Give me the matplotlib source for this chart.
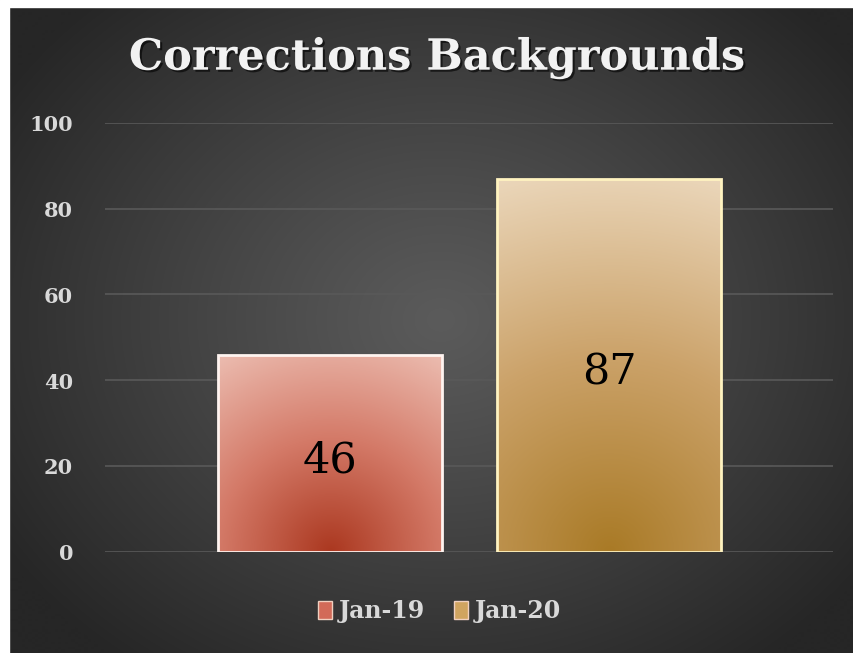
import numpy as np
import matplotlib
matplotlib.use("Agg")
import matplotlib.pyplot as plt
from matplotlib.colors import LinearSegmentedColormap
from matplotlib.patches import Patch
import matplotlib.patheffects as pe

# data
series = ["Jan-19", "Jan-20"]
values = [46, 87]
yticks = [0, 20, 40, 60, 80, 100]

# colours: dark (bottom), mid, light (top corners)
bar_cols = [["#ab3820", "#d47a68", "#ecbdb1"],
            ["#a97a26", "#cba269", "#ebd7bb"]]
edge_cols = ["#fff4f0", "#fff3c0"]
legend_cols = ["#d26a58", "#d0a460"]

W, H = 853, 653
fig = plt.figure(figsize=(8.532, 6.532), dpi=100)
fig.patch.set_facecolor("#262626")

# dark radial background (chart area starts a few px in from left / top)
bg = fig.add_axes([0, 0, 1, 1], zorder=-5)
bg.axis("off")
yy, xx = np.mgrid[7:H + 20, 9:W + 20]
d = np.sqrt(((xx - 440) / 520.0) ** 2 + ((yy - 320) / 430.0) ** 2)
d = np.clip(d, 0, 1) ** 1.1
c0 = np.array([0x5b, 0x5b, 0x5b]) / 255
c1 = np.array([0x26, 0x26, 0x26]) / 255
img = c0[None, None, :] * (1 - d[..., None]) + c1[None, None, :] * d[..., None]
bg.imshow(img, extent=(9, W + 20, H + 20, 7), interpolation="bilinear", aspect="auto")
# white margin on the left and top
bg.axvspan(0, 9, color="white", zorder=5)
bg.axhspan(0, 7, color="white", zorder=5)
bg.set_xlim(0, W)
bg.set_ylim(H, 0)

ax = fig.add_axes([105 / W, 1 - 552 / H, (833 - 105) / W, (552 - 123) / H])
ax.set_facecolor("none")
ax.set_yticks(yticks)
ax.set_xticks([])
for s in ax.spines.values():
    s.set_visible(False)
ax.tick_params(axis="y", length=0, pad=23, labelcolor="#d9d9d9")
for lab in ax.get_yticklabels():
    lab.set_fontfamily("DejaVu Serif")
    lab.set_fontweight("bold")
    lab.set_fontsize(15)
ax.grid(axis="y", color="#595959", linewidth=1.2)
ax.set_axisbelow(True)

width = 0.803
px_per_unit = (552 - 123) / 100.0
bars = ax.bar(range(len(values)), values, width=width, facecolor="none",
              edgecolor=edge_cols, linewidth=2, zorder=3)

for i, (b, v) in enumerate(zip(bars, values)):
    cmap = LinearSegmentedColormap.from_list("g%d" % i, bar_cols[i])
    hpx = int(v * px_per_unit)
    wpx = 224
    gy, gx = np.mgrid[0:hpx, 0:wpx]
    u = (gx - wpx / 2.0)
    t = np.sqrt(u ** 2 + (gy * 1.0) ** 2)
    t = t / t.max()
    grad = cmap(t)
    x0 = i - width / 2
    gim = ax.imshow(grad, extent=(x0, x0 + width, 0, v), origin="lower",
                    aspect="auto", zorder=2, interpolation="bilinear")
    gim.set_clip_path(b)
    ax.annotate(str(v), (i, v / 2), xytext=(0, -5), textcoords="offset points",
                ha="center", va="center", fontsize=31,
                fontfamily="DejaVu Serif", color="black", zorder=4)

ax.set_xlim(-0.806, 1.803)
ax.set_ylim(0, 100)

fig.text(0.512, 0.911, "Corrections Backgrounds", ha="center", va="center",
         fontsize=31, fontweight="bold", fontfamily="DejaVu Serif", color="#f2f2f2",
         path_effects=[pe.withSimplePatchShadow(offset=(1.5, -1.5), shadow_rgbFace="black", alpha=0.6)])

handles = [Patch(facecolor=legend_cols[i], edgecolor="#f0d0c0", label=series[i])
           for i in range(len(series))]
leg = fig.legend(handles=handles, loc="center", bbox_to_anchor=(0.515, 0.064),
                 ncol=2, frameon=False, handlelength=0.6, handleheight=0.8,
                 handletextpad=0.3, columnspacing=1.2,
                 prop={"family": "DejaVu Serif", "weight": "bold", "size": 17})
for t in leg.get_texts():
    t.set_color("#d9d9d9")

fig.savefig("out.png", dpi=100, facecolor=fig.get_facecolor())
